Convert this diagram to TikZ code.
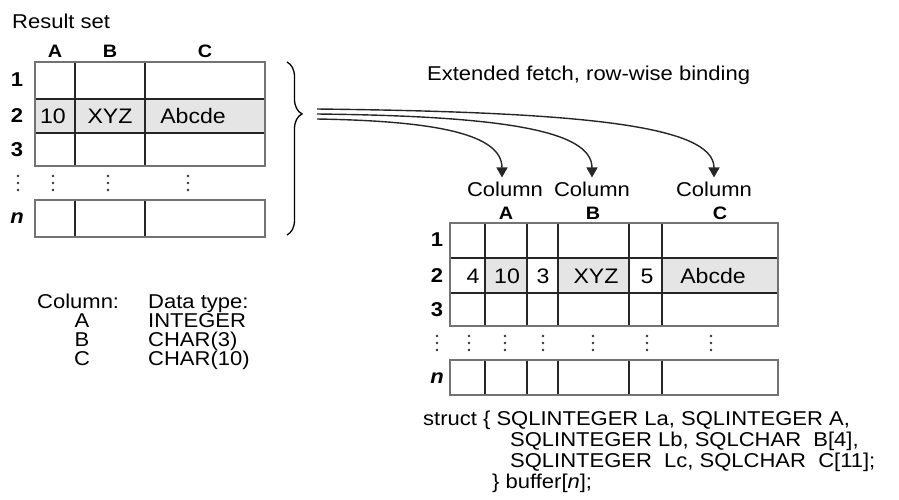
\documentclass[tikz,border=0pt]{standalone}
\usepackage{fontspec}
\setmainfont{Liberation Sans}[FakeStretch=1.1]
\usetikzlibrary{arrows.meta,decorations.pathreplacing}

\begin{document}
\begin{tikzpicture}[x=1pt, y=-1pt, inner sep=0pt,
  txt/.style = {font=\fontsize{20}{22}\selectfont},
  cell/.style = {font=\fontsize{21}{23}\selectfont},
  rowlbl/.style = {font=\fontsize{20}{22}\selectfont\bfseries},
  hdr/.style = {font=\fontsize{18}{20}\selectfont\bfseries},
  grid/.style = {draw=black!85, line width=1.3pt},
  frame/.style = {draw=black!55, line width=2pt},
  fetch/.style = {draw=black!85, line width=1.4pt, -{Triangle[width=11pt,length=10pt]}}]
\useasboundingbox (0,0) rectangle (899,499);

% result set
\node[txt, anchor=base west] (title) at (12,28) {Result set};
\node[hdr] (rA) at (55,51) {A};
\node[hdr] (rB) at (110,51) {B};
\node[hdr] (rC) at (205,51) {C};
\fill[black!10] (35,99) rectangle (265,133);
\draw[grid] (75,62) -- (75,166) (145,62) -- (145,166) (35,99) -- (265,99) (35,133) -- (265,133);
\draw[frame] (35,62) rectangle (265,166);
\draw[grid] (75,200) -- (75,237) (145,200) -- (145,237);
\draw[frame] (35,200) rectangle (265,237);
\node[rowlbl] (r1) at (17,80) {1};
\node[rowlbl] (r2) at (17,116) {2};
\node[rowlbl] (r3) at (17,150) {3};
\node[rowlbl] (rn) at (17,218) {\textit{n}};
\node[cell] (rv1) at (53,116) {10};
\node[cell] (rv2) at (110,116) {XYZ};
\node[cell] (rv3) at (193,116) {Abcde};
\foreach \x in {18,53,108,188}
  \foreach \y in {176,183,190}
    \fill[black!80] (\x,\y) circle (1.3pt);
\draw[decorate, decoration={brace, amplitude=15pt, aspect=0.3}, line width=1.3pt] (287,62) -- (287,235);

% column types
\node[txt, anchor=base west] (colhd) at (37,308) {Column:};
\node[txt, anchor=base west] (typhd) at (148,308) {Data type:};
\node[txt, anchor=base] (cA) at (82,327) {A};
\node[txt, anchor=base] (cB) at (82,346) {B};
\node[txt, anchor=base] (cC) at (82,365) {C};
\node[txt, anchor=base west] (tA) at (148,327) {INTEGER};
\node[txt, anchor=base west] (tB) at (148,346) {CHAR(3)};
\node[txt, anchor=base west] (tC) at (148,365) {CHAR(10)};

% row-wise buffer
\node[txt, anchor=base west] (fetchlbl) at (427,80) {Extended fetch, row-wise binding};
\node[txt] (colA) at (505,189) {Column};
\node[txt] (colB) at (592,189) {Column};
\node[txt] (colC) at (714,189) {Column};
\node[hdr] (bA) at (506,213) {A};
\node[hdr] (bB) at (593,213) {B};
\node[hdr] (bC) at (720,213) {C};
\fill[black!10] (485,258) rectangle (527,293) (558,258) rectangle (629,293) (662,258) rectangle (778,293);
\draw[grid] (485,223) -- (485,326) (527,223) -- (527,326) (558,223) -- (558,326)
  (629,223) -- (629,326) (662,223) -- (662,326) (450,258) -- (778,258) (450,293) -- (778,293);
\draw[frame] (450,223) rectangle (778,326);
\draw[grid] (485,360) -- (485,395) (527,360) -- (527,395) (558,360) -- (558,395)
  (629,360) -- (629,395) (662,360) -- (662,395);
\draw[frame] (450,360) rectangle (778,395);
\node[rowlbl] (b1) at (437,240) {1};
\node[rowlbl] (b2) at (437,276) {2};
\node[rowlbl] (b3) at (437,310) {3};
\node[rowlbl] (bn) at (437,378) {\textit{n}};
\node[cell] (bv1) at (473,276) {4};
\node[cell] (bv2) at (507,276) {10};
\node[cell] (bv3) at (543,276) {3};
\node[cell] (bv4) at (596,276) {XYZ};
\node[cell] (bv5) at (647,276) {5};
\node[cell] (bv6) at (713,276) {Abcde};
\foreach \x in {437,469,505,543,593,647,711}
  \foreach \y in {336,343,350}
    \fill[black!80] (\x,\y) circle (1.3pt);

% struct declaration
\node[txt, anchor=base west] (s1) at (423,425) {struct \{ SQLINTEGER La, SQLINTEGER A,};
\node[txt, anchor=base west] (s2) at (510,446) {SQLINTEGER Lb, SQLCHAR\ \ B[4],};
\node[txt, anchor=base west] (s3) at (510,467) {SQLINTEGER\ \ Lc, SQLCHAR\ \ C[11];};
\node[txt, anchor=base west] (s4) at (492,488) {\} buffer[\textit{n}];};

% fetch arrows
\coordinate (srcA) at (317,119);
\coordinate (srcB) at (317,114);
\coordinate (srcC) at (317,109);
\draw[fetch] (srcA) .. controls (440,121) and ([xshift=-3pt]colA.north |- 0,135) .. ([xshift=-3pt,yshift=4pt]colA.north);
\draw[fetch] (srcB) .. controls (500,116) and (colB.north |- 0,130) .. ([yshift=4pt]colB.north);
\draw[fetch] (srcC) .. controls (580,112) and (colC.north |- 0,125) .. ([yshift=4pt]colC.north);
\end{tikzpicture}
\end{document}
